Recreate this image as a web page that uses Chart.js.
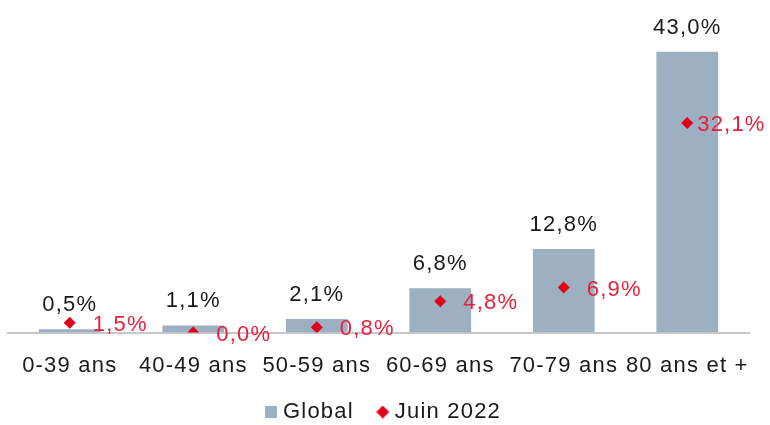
<!DOCTYPE html>
<html>
<head>
<meta charset="utf-8">
<script src="https://cdn.jsdelivr.net/npm/chart.js@4"></script>
<style>
  html, body { margin: 0; padding: 0; background: #fff; }
  #wrap { width: 770px; height: 425px; }
</style>
</head>
<body>
<div id="wrap"><canvas id="graf"></canvas></div>
<script>
// données
const categories = ['0-39 ans', '40-49 ans', '50-59 ans', '60-69 ans', '70-79 ans', '80 ans et +'];
const global_vals = [0.5, 1.1, 2.1, 6.8, 12.8, 43.0];
const juin_vals = [1.5, 0.0, 0.8, 4.8, 6.9, 32.1];
const noms_series = ['Global', 'Juin 2022'];

const couleur_barre = '#9db0c1';
const couleur_rouge = '#e2001a';
const couleur_texte_rouge = '#e8203c';
const police = 'Liberation Sans, Arial, sans-serif';
const espacement = '1.2px';

const fmt = v => v.toFixed(1).replace('.', ',') + '%';

// petit losange pour la légende
function losange(taille, couleur) {
    const c = document.createElement('canvas');
    c.width = taille; c.height = taille;
    const g = c.getContext('2d');
    g.fillStyle = couleur;
    g.beginPath();
    g.moveTo(taille / 2, 0);
    g.lineTo(taille, taille / 2);
    g.lineTo(taille / 2, taille);
    g.lineTo(0, taille / 2);
    g.closePath();
    g.fill();
    return c;
}
function carre(taille, couleur) {
    const c = document.createElement('canvas');
    c.width = taille; c.height = taille;
    const g = c.getContext('2d');
    g.fillStyle = couleur;
    g.fillRect(0, 0, taille, taille);
    return c;
}

// espacement des lettres (remis apres chaque redimensionnement du canvas)
// + petit recalage de la légende
const plugin_espacement = {
    id: 'espacement',
    beforeUpdate(chart) { chart.ctx.letterSpacing = espacement; },
    afterLayout(chart) {
        const lg = chart.legend;
        if (lg) {
            lg.top -= 18; lg.bottom -= 18;
            lg.left += 7; lg.right += 7;
        }
    },
    beforeDraw(chart) { chart.ctx.letterSpacing = espacement; }
};

// étiquettes des valeurs
const plugin_etiquettes = {
    id: 'etiquettes',
    afterDatasetsDraw(chart) {
        const ctx = chart.ctx;
        ctx.save();
        ctx.letterSpacing = espacement;
        ctx.font = '22px ' + police;
        ctx.textBaseline = 'middle';

        const meta_barres = chart.getDatasetMeta(0);
        ctx.fillStyle = '#1a1a1a';
        ctx.textAlign = 'center';
        meta_barres.data.forEach((bar, i) => {
            ctx.fillText(fmt(global_vals[i]), bar.x, bar.y - 24);
        });

        const meta_points = chart.getDatasetMeta(1);
        ctx.fillStyle = couleur_texte_rouge;
        ctx.textAlign = 'left';
        meta_points.data.forEach((pt, i) => {
            const dx = i === juin_vals.length - 1 ? 10 : 23;
            ctx.fillText(fmt(juin_vals[i]), pt.x + dx, pt.y + 2);
        });
        ctx.restore();
    }
};

const ctx = document.getElementById('graf').getContext('2d');

new Chart(ctx, {
    type: 'bar',
    data: {
        labels: categories,
        datasets: [{
            label: noms_series[0],
            data: global_vals,
            backgroundColor: couleur_barre,
            barPercentage: 0.5,
            categoryPercentage: 1.0,
            order: 2
        }, {
            type: 'line',
            label: noms_series[1],
            data: juin_vals,
            showLine: false,
            pointStyle: 'rectRot',
            pointRadius: 6,
            pointHoverRadius: 6,
            pointBackgroundColor: couleur_rouge,
            pointBorderWidth: 0,
            backgroundColor: couleur_rouge,
            borderColor: couleur_rouge,
            order: 1
        }]
    },
    options: {
        responsive: true,
        maintainAspectRatio: false,
        animation: false,
        layout: {
            padding: { left: 8, right: 21, top: 5, bottom: -26 }
        },
        plugins: {
            legend: {
                position: 'bottom',
                labels: {
                    color: '#1a1a1a',
                    font: { family: police, size: 22 },
                    usePointStyle: true,
                    boxWidth: 2,
                    boxHeight: 12,
                    padding: 28,
                    generateLabels(chart) {
                        return [{
                            text: noms_series[0], pointStyle: carre(12, couleur_barre),
                            fillStyle: couleur_barre, strokeStyle: couleur_barre, lineWidth: 0,
                            datasetIndex: 0, hidden: false, fontColor: '#1a1a1a'
                        }, {
                            text: noms_series[1], pointStyle: losange(13, couleur_rouge),
                            fillStyle: couleur_rouge, strokeStyle: couleur_rouge, lineWidth: 0,
                            datasetIndex: 1, hidden: false, fontColor: '#1a1a1a'
                        }];
                    }
                }
            },
            tooltip: { enabled: false }
        },
        scales: {
            x: {
                grid: { display: false },
                border: { display: true, color: '#c8c8c8', width: 2 },
                ticks: {
                    color: '#1a1a1a',
                    font: { family: police, size: 22 },
                    padding: 12,
                    maxRotation: 0,
                    autoSkip: false
                }
            },
            y: {
                display: false,
                min: 0,
                max: 50
            }
        }
    },
    plugins: [plugin_espacement, plugin_etiquettes]
});
</script>
</body>
</html>
